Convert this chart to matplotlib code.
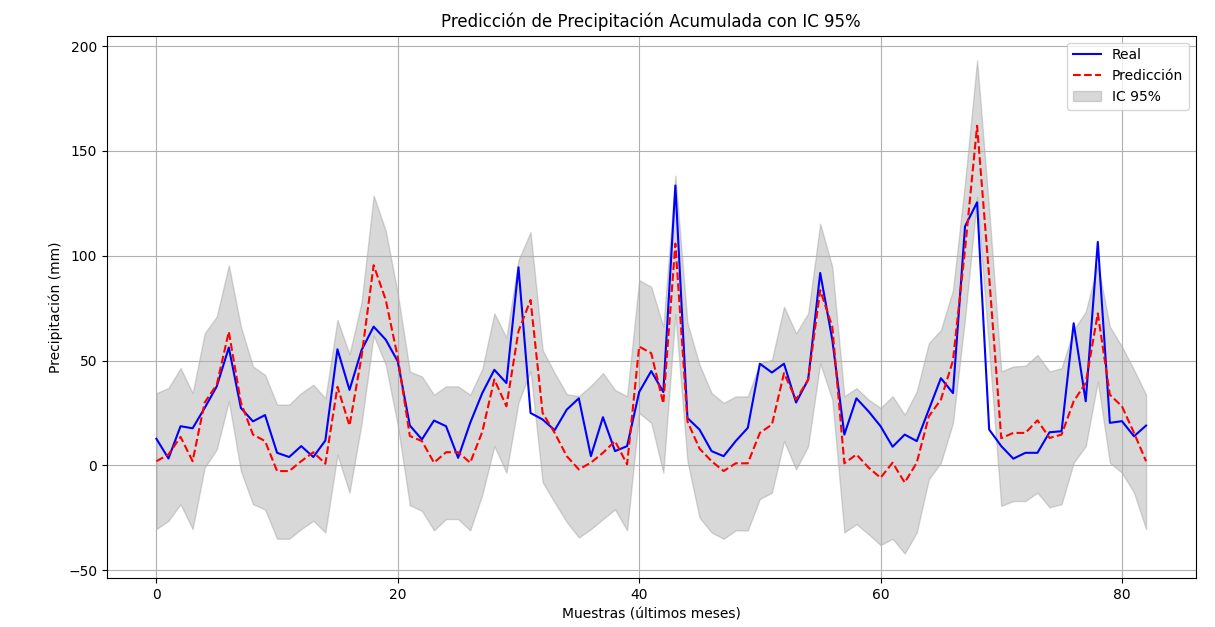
import numpy as np
import matplotlib
matplotlib.use("Agg")
import matplotlib.pyplot as plt

# valores (83 muestras)
real = [12.7, 3.3, 18.7, 17.7, 27.4, 37.7, 56.2, 27.4, 21, 24,
        6, 4, 9.2, 4, 11.9, 55.4, 36, 55, 66.2, 60,
        49.6, 19, 12.4, 21.4, 18.7, 3.6, 20.3, 34.5, 45.6, 39.3,
        94.5, 25, 21.9, 16.8, 26.6, 32, 4.4, 23, 6.8, 9.2,
        35, 45, 35, 133.5, 22.6, 17.1, 6.8, 4.4, 11.6, 17.9,
        48.5, 44.3, 48.5, 30, 40.9, 91.8, 60, 14.7, 32, 25.8,
        18.7, 8.9, 14.7, 11.6, 26.6, 41.6, 34.5, 114, 125.5, 17.1,
        9.2, 3.2, 6, 6, 15.8, 16.3, 67.8, 30.6, 106.6, 20.3,
        21.1, 13.9, 19]

pred = [2, 5.2, 13.6, 2, 30, 38.5, 63.8, 30, 14.7, 11.6,
        -2.7, -2.7, 2, 6.3, 0.8, 37.5, 19, 52, 95.5, 79,
        51.5, 14, 11.6, 1.3, 6.3, 6.3, 1.3, 16, 41, 28.2,
        64, 78.9, 25, 15.5, 4.4, -1.9, 1.3, 6, 11.6, 0.5,
        56.7, 53.5, 29.5, 105.8, 21, 8, 2, -2.7, 1, 1,
        15.5, 19.5, 44, 31.4, 40.9, 83.6, 66.2, 1, 5.2, -1,
        -5.9, 1.3, -8.2, 1.3, 23.4, 31.4, 50, 103, 162, 90,
        13, 15.5, 15.5, 21.5, 13.1, 14.7, 30.6, 39.3, 72.5, 33.7,
        28.2, 15.5, 2]

upper = [34.5, 36.9, 46.4, 34.5, 63, 71, 95.5, 66.2, 47.2, 43.2,
         29, 29, 34.5, 38.5, 32, 69.4, 53, 78, 128.7, 112,
         82, 44.8, 42.4, 33.7, 37.7, 37.7, 33.7, 46, 72.5, 61,
         98, 111.3, 55, 44, 34, 33, 38, 44, 36, 33,
         88.4, 85.2, 66.2, 138.2, 68, 48, 34.5, 29.8, 32.9, 32.9,
         48.7, 50.4, 75.7, 63, 72.5, 115.3, 94.7, 32.9, 36.9, 31.4,
         27.4, 33, 24.2, 35.3, 58.3, 64.6, 83.6, 135, 193.2, 122,
         44.8, 47.2, 47.5, 52.7, 44.8, 46.4, 64.6, 73.3, 96, 66.2,
         56.7, 45.6, 33.7]

lower = [-30.4, -26.4, -18.5, -30.4, -1, 7.6, 30.6, -2.7, -18.5, -21,
         -35, -35, -30.4, -26.4, -32, 5, -13, 20, 62, 48,
         19, -19, -21.7, -31, -25.6, -25.6, -31, -14, 9.2, -3.5,
         30, 45, -8, -17.7, -27, -34.4, -30.4, -25.6, -21, -31,
         25, 20.3, -3.5, 72, 2, -24.9, -32, -35, -31, -31,
         -16, -13, 11.6, -1.9, 9.2, 48.7, 31.4, -32, -28, -32.8,
         -38, -35, -42, -32, -6.6, 1.3, 20.3, 70, 128, 55,
         -19.3, -17, -17, -13, -20, -18.5, 1.3, 9.2, 40, 1.3,
         -3.5, -13, -30.4]

x = np.arange(len(real))

fig = plt.figure(figsize=(12.15, 6.27), dpi=100)
ax = fig.add_axes([0.088, 0.078, 0.896, 0.865])

ax.plot(x, real, color='blue', linewidth=1.5, label='Real')
ax.plot(x, pred, 'r--', linewidth=1.5, label='Predicción')
ax.fill_between(x, lower, upper, color='gray', alpha=0.3, label='IC 95%')

ax.set_title('Predicción de Precipitación Acumulada con IC 95%', fontsize=12)
ax.set_xlabel('Muestras (últimos meses)')
ax.set_ylabel('Precipitación (mm)')
ax.legend(loc='upper right')
ax.grid(True)

fig.savefig('out.png', dpi=100)
